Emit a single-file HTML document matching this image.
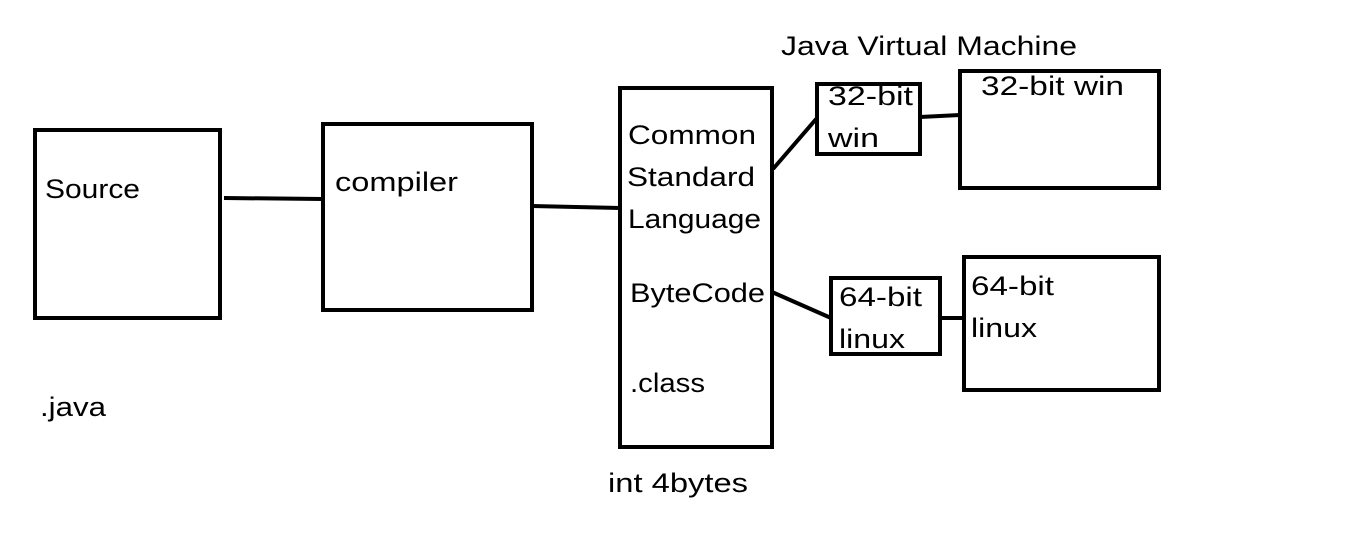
<!DOCTYPE html>
<html><head><style>
body{margin:0;background:#fff;}
svg{display:block}
text{font-family:"Liberation Sans",sans-serif;font-size:27px;fill:#000}
</style></head><body>
<svg width="1359" height="558" viewBox="0 0 1359 558">
<g fill="none" stroke="#000" stroke-width="4">
<rect x="35" y="130" width="185" height="188"/>
<rect x="323" y="124" width="209" height="186"/>
<rect x="620" y="88" width="152" height="359"/>
<rect x="817" y="84" width="103" height="70"/>
<rect x="960" y="71" width="199" height="117"/>
<rect x="831" y="278" width="109" height="76"/>
<rect x="964" y="257" width="195" height="133"/>
<line x1="224" y1="198" x2="323" y2="199"/>
<line x1="532" y1="206" x2="620" y2="208"/>
<line x1="773" y1="169" x2="817" y2="118"/>
<line x1="920" y1="117" x2="960" y2="115"/>
<line x1="772" y1="292" x2="831" y2="318"/>
<line x1="940" y1="318" x2="964" y2="318"/>
</g>
<g lengthAdjust="spacingAndGlyphs">
<text x="45" y="198" textLength="95" lengthAdjust="spacingAndGlyphs">Source</text>
<text x="335" y="191" textLength="123" lengthAdjust="spacingAndGlyphs">compiler</text>
<text x="628" y="144" textLength="128" lengthAdjust="spacingAndGlyphs">Common</text>
<text x="627" y="186" textLength="128" lengthAdjust="spacingAndGlyphs">Standard</text>
<text x="628" y="228" textLength="133" lengthAdjust="spacingAndGlyphs">Language</text>
<text x="630" y="302" textLength="135" lengthAdjust="spacingAndGlyphs">ByteCode</text>
<text x="630" y="392" textLength="75" lengthAdjust="spacingAndGlyphs">.class</text>
<text x="608" y="492" textLength="140" lengthAdjust="spacingAndGlyphs">int 4bytes</text>
<text x="40" y="416" textLength="66" lengthAdjust="spacingAndGlyphs">.java</text>
<text x="781" y="55" textLength="296" lengthAdjust="spacingAndGlyphs">Java Virtual Machine</text>
<text x="828" y="105" textLength="85" lengthAdjust="spacingAndGlyphs">32-bit</text>
<text x="828" y="147" textLength="51" lengthAdjust="spacingAndGlyphs">win</text>
<text x="981" y="95" textLength="143" lengthAdjust="spacingAndGlyphs">32-bit win</text>
<text x="839" y="306" textLength="83" lengthAdjust="spacingAndGlyphs">64-bit</text>
<text x="839" y="348" textLength="66" lengthAdjust="spacingAndGlyphs">linux</text>
<text x="971" y="295" textLength="83" lengthAdjust="spacingAndGlyphs">64-bit</text>
<text x="971" y="337" textLength="66" lengthAdjust="spacingAndGlyphs">linux</text>
</g>
</svg>
</body></html>
